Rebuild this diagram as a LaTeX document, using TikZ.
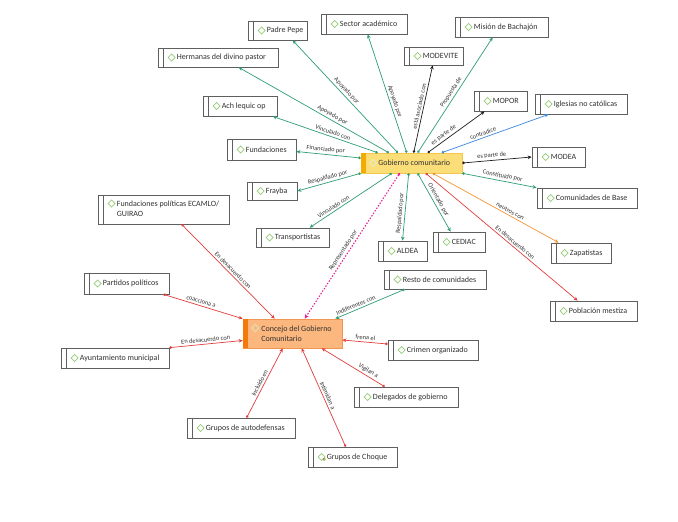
\documentclass[tikz,border=0pt]{standalone}
\usepackage{fontspec}
\setmainfont{Carlito}
\usetikzlibrary{arrows.meta}
\definecolor{gline}{RGB}{46,158,114}
\definecolor{rline}{RGB}{226,62,62}
\definecolor{oline}{RGB}{243,150,50}
\definecolor{bline}{RGB}{60,135,225}
\definecolor{mline}{RGB}{232,30,150}
\definecolor{kline}{RGB}{30,30,30}
\definecolor{boxgray}{RGB}{95,95,95}
\definecolor{diag}{RGB}{150,205,120}
\definecolor{gyel}{RGB}{252,222,120}
\definecolor{gyelb}{RGB}{240,200,80}
\definecolor{gbar}{RGB}{245,170,0}
\definecolor{corf}{RGB}{251,183,125}
\definecolor{corb}{RGB}{240,150,80}
\definecolor{cbar}{RGB}{245,120,10}
\definecolor{txt}{RGB}{50,50,50}
\tikzset{
 wbox/.style={draw=boxgray, fill=white, line width=0.7pt, inner sep=0pt},
 btext/.style={font=\fontsize{8}{10}\selectfont, text=txt, inner sep=0pt, align=left},
 dia/.style={draw=diag, line width=0.7pt},
 barline/.style={draw=boxgray, line width=0.9pt},
 lab/.style={font=\fontsize{6.4}{7}\selectfont, text=txt, sloped, above, inner sep=1.8pt},
 conn/.style={line width=0.7pt, {Circle[length=2.6pt]}-{Stealth[length=4pt,width=3.6pt]}},
 gl/.style={conn, draw=gline},
 kl/.style={conn, draw=kline},
 bl/.style={conn, draw=bline},
 ol/.style={conn, draw=oline},
 rl/.style={conn, draw=rline},
 ml/.style={line width=1.1pt, draw=mline, dash pattern=on 1.4pt off 1.6pt, {Circle[length=2.6pt]}-{Stealth[length=4.5pt,width=4pt]}}
}
\newcommand\mkbox[6]{%
  \node[wbox, minimum width={#4pt-#2pt}, minimum height={#5pt-#3pt}] (#1) at ({(#2+#4)/2},{(#3+#5)/2}) {};
  \draw[barline] ([xshift=5.5pt]#1.north west) -- ([xshift=5.5pt]#1.south west);
  \draw[dia] ([xshift=10.5pt]#1.west) -- ([xshift=14pt,yshift=3.6pt]#1.west) -- ([xshift=17.5pt]#1.west) -- ([xshift=14pt,yshift=-3.6pt]#1.west) -- cycle;
  \node[btext, anchor=west] (#1-t) at ([xshift=19pt]#1.west) {#6};
}
\begin{document}
\begin{tikzpicture}[x=1pt,y=-1pt]
\fill[white] (0,0) rectangle (678,522);
\useasboundingbox (0,0) rectangle (678,522);

% plain boxes
\mkbox{pp}{248}{21}{307}{40}{Padre Pepe}
\mkbox{sa}{321}{14}{407}{34}{Sector académico}
\mkbox{mb}{455}{17}{548}{37}{Misión de Bachajón}
\mkbox{mv}{404}{47}{463}{65}{MODEVITE}
\mkbox{hd}{158}{48}{278}{67}{Hermanas del divino pastor}
\mkbox{ach}{203}{96}{277}{116}{Ach lequic op}
\mkbox{mp}{474}{91}{527}{111}{MOPOR}
\mkbox{inc}{535}{94}{627}{114}{Iglesias no católicas}
\mkbox{md}{532}{147}{585}{167}{MODEA}
\mkbox{cb}{537}{188}{637}{208}{Comunidades de Base}
\mkbox{fu}{227}{139}{296}{160}{Fundaciones}
\mkbox{fr}{247}{182}{297}{200}{Frayba}
\mkbox{tr}{256}{228}{329}{247}{Transportistas}
\mkbox{al}{378}{241}{427}{261}{ALDEA}
\mkbox{ce}{433}{232}{485}{252}{CEDIAC}
\mkbox{za}{551}{243}{611}{263}{Zapatistas}
\mkbox{rc}{384}{270}{486}{289}{Resto de comunidades}
\mkbox{pm}{550}{301}{637}{321}{Población mestiza}
\mkbox{pa}{84}{273}{169}{294}{Partidos políticos}
\mkbox{ay}{61}{348}{169}{368}{Ayuntamiento municipal}
\mkbox{co}{388}{340}{478}{360}{Crimen organizado}
\mkbox{dg}{354}{387}{458}{407}{Delegados de gobierno}
\mkbox{ga}{187}{418}{295}{438}{Grupos de autodefensas}
\mkbox{gc}{308}{447}{397}{467}{Grupos de Choque}
\fill[yellow!80!orange, draw=black!60, line width=0.3pt] (gc.west) ++(16.5pt,-2.2pt) circle (1.3pt);

% two-line box
\node[wbox, minimum width=131pt, minimum height=29pt] (fp) at (163.5,209.5) {};
\draw[barline] ([xshift=5.5pt]fp.north west) -- ([xshift=5.5pt]fp.south west);
\draw[dia] ([xshift=10.5pt,yshift=6pt]fp.west) -- ([xshift=14pt,yshift=9.6pt]fp.west) -- ([xshift=17.5pt,yshift=6pt]fp.west) -- ([xshift=14pt,yshift=2.4pt]fp.west) -- cycle;
\node[btext, anchor=west] (fp-t) at ([xshift=19pt,yshift=0.5pt]fp.west) {Fundaciones políticas ECAMLO/\\GUIRAO};

% Gobierno comunitario
\node[draw=gyelb, fill=gyel, line width=0.6pt, minimum width=101pt, minimum height=20pt, inner sep=0pt] (G) at (411.5,163) {};
\fill[gbar] (G.north west) rectangle ([xshift=5pt]G.south west);
\draw[draw=white!70!diag, line width=0.7pt] ([xshift=9pt]G.west) -- ([xshift=12.5pt,yshift=3.6pt]G.west) -- ([xshift=16pt]G.west) -- ([xshift=12.5pt,yshift=-3.6pt]G.west) -- cycle;
\node[btext, anchor=west] (G-t) at ([xshift=17.5pt]G.west) {Gobierno comunitario};

% Concejo
\node[draw=corb, fill=corf, line width=0.6pt, minimum width=99pt, minimum height=29pt, inner sep=0pt] (C) at (292.5,333.5) {};
\fill[cbar] (C.north west) rectangle ([xshift=5pt]C.south west);
\draw[draw=white!60!diag, line width=0.7pt] ([xshift=9pt,yshift=5.5pt]C.west) -- ([xshift=12.5pt,yshift=9.1pt]C.west) -- ([xshift=16pt,yshift=5.5pt]C.west) -- ([xshift=12.5pt,yshift=1.9pt]C.west) -- cycle;
\node[btext, anchor=west] (C-t) at ([xshift=18.5pt]C.west) {Concejo del Gobierno\\Comunitario};

% connectors from Gobierno comunitario
\draw[gl] ([xshift=17pt]G.north west) -- node[lab,pos=.44] (l1) {Vinculado con} ([xshift=70pt]ach.south west);
\draw[gl] ([xshift=28pt]G.north west) -- node[lab,pos=.39] (l2) {Apoyado por} ([xshift=81pt]hd.south west);
\draw[gl] ([xshift=37pt]G.north west) -- node[lab,pos=.52] (l3) {Apoyado por} ([xshift=45pt]pp.south west);
\draw[gl] ([xshift=46pt]G.north west) -- node[lab,pos=.42] (l4) {Apoyado por} ([xshift=47pt]sa.south west);
\draw[kl] ([xshift=53pt]G.north west) -- node[lab,pos=.52] (l5) {está asociado con} ([xshift=29pt]mv.south west);
\draw[gl] ([xshift=57pt]G.north west) -- node[lab,pos=.5] (l6) {Propuesta de} ([xshift=38pt]mb.south west);
\draw[kl] ([xshift=67pt]G.north west) -- node[lab,pos=.33] (l7) {es parte de} ([xshift=11pt]mp.south west);
\draw[bl] ([xshift=81pt]G.north west) -- node[lab,pos=.4] (l8) {contradice} ([xshift=14pt]inc.south west);
\draw[kl] (G.east) -- node[lab,pos=.43] (l9) {es parte de} (md.west);
\draw[gl] (G.south east) -- node[lab,pos=.53] (l10) {Constituido por} (cb.north west);
\draw[ol] ([xshift=72pt]G.south west) -- node[lab,pos=.6] (l11) {neutros con} ([xshift=8pt]za.north west);
\draw[rl] ([xshift=65pt]G.south west) -- node[lab,pos=.57] (l12) {En desacuerdo con} ([xshift=28pt]pm.north west);
\draw[gl] ([xshift=57pt]G.south west) -- node[lab,pos=.5] (l13) {Orientado por} ([xshift=18pt]ce.north west);
\draw[gl] ([xshift=48pt]G.south west) -- node[lab,pos=.6] (l14) {Respaldado por} (al.north);
\draw[ml] ([xshift=39pt]G.south west) -- node[lab,pos=.55] (l15) {Representado por} ([xshift=62pt]C.north west);
\draw[gl] ([xshift=31pt]G.south west) -- node[lab,pos=.68] (l16) {Vinculado con} ([xshift=54pt]tr.north west);
\draw[gl] (G.south west) -- node[lab,pos=.5] (l17) {Respaldado por} (fr.east);
\draw[gl] ([yshift=5pt]G.west) -- node[lab,pos=.55] (l18) {Financiado por} ([yshift=-2pt]fu.east);

% connectors around Concejo
\draw[rl] ([xshift=84pt]fp.south west) -- node[lab,pos=.52] (l19) {En desacuerdo con} ([xshift=32pt]C.north west);
\draw[rl] ([xshift=-6pt]pa.south east) -- node[lab,pos=.46] (l20) {coacciona a} (C.north west);
\draw[rl] (ay.north east) -- node[lab,pos=.5] (l21) {En desacuerdo con} ([yshift=-7pt]C.west);
\draw[gl] ([xshift=21pt]rc.south west) -- node[lab,pos=.68] (l22) {Indiferentes con} ([xshift=-7pt]C.north east);
\draw[rl] ([yshift=6pt]co.west) -- node[lab,pos=.5] (l23) {frena el} ([yshift=-6.5pt]C.east);
\draw[rl] ([xshift=31pt]dg.north west) -- node[lab,pos=.3] (l24) {Vigilan a} ([xshift=79pt]C.south west);
\draw[rl] ([xshift=60pt]ga.north west) -- node[lab,pos=.47] (l25) {Incluido en} ([xshift=40pt]C.south west);
\draw[rl] ([xshift=38pt]gc.north west) -- node[lab,pos=.5] (l26) {Intimidan a} ([xshift=59pt]C.south west);
\end{tikzpicture}
\end{document}
